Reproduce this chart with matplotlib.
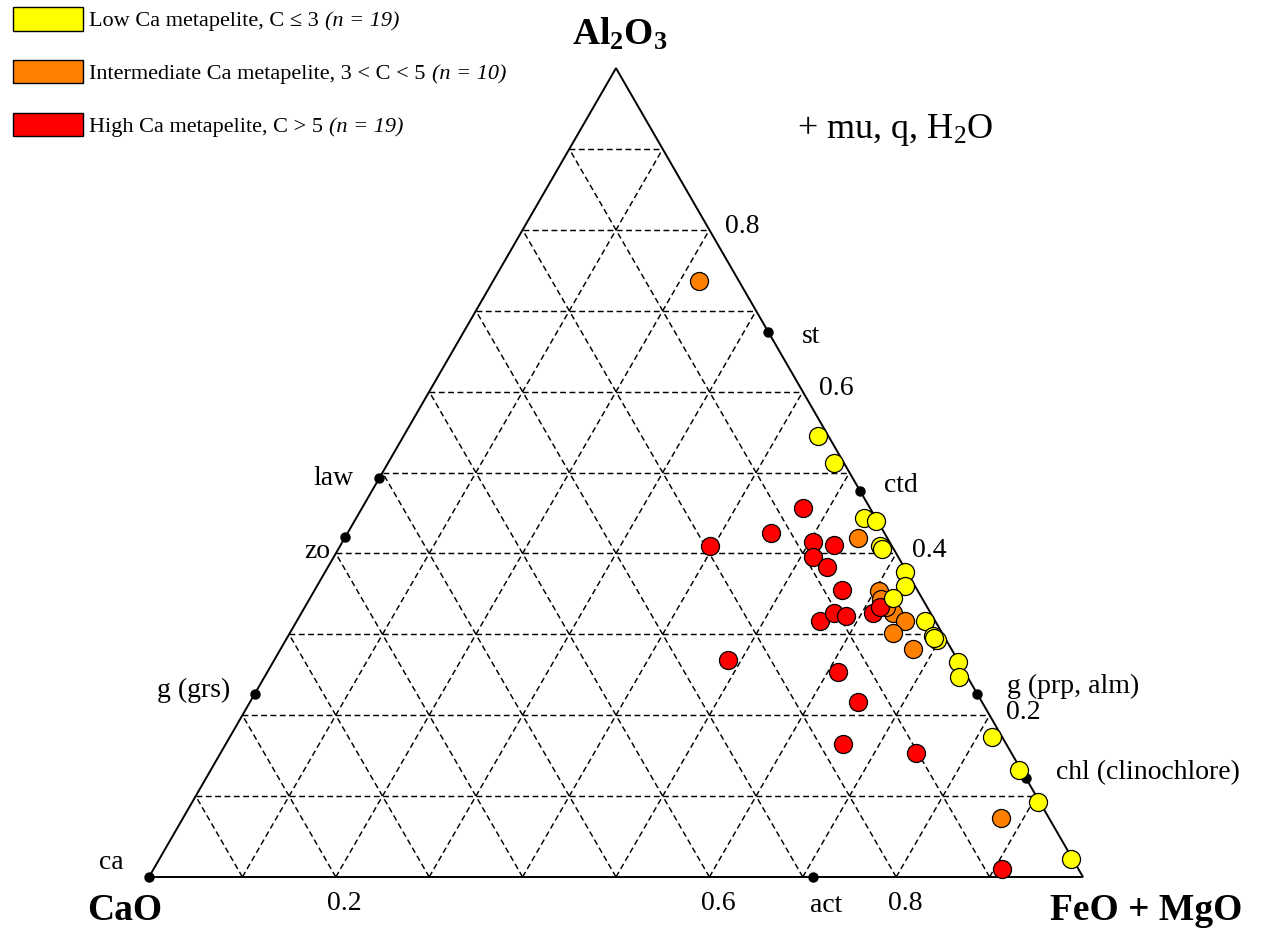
import numpy as np
import matplotlib
matplotlib.use("Agg")
import matplotlib.pyplot as plt
from matplotlib.patches import Patch

plt.rcParams['font.family'] = ['Liberation Serif', 'DejaVu Serif']
plt.rcParams['mathtext.fontset'] = 'custom'
plt.rcParams['mathtext.rm'] = 'Liberation Serif'
plt.rcParams['mathtext.it'] = 'Liberation Serif:italic'
plt.rcParams['mathtext.bf'] = 'Liberation Serif:bold'

# ---- sample compositions (molar fractions: Al2O3, FeO+MgO; CaO is the rest) ----
low_ca_al = [0.545, 0.512, 0.444, 0.440, 0.409, 0.377, 0.360, 0.345, 0.317, 0.298,
             0.293, 0.266, 0.247, 0.173, 0.132, 0.0925, 0.022, 0.296, 0.405]
low_ca_fm = [0.444, 0.477, 0.544, 0.558, 0.578, 0.621, 0.629, 0.624, 0.672, 0.690,
             0.697, 0.733, 0.744, 0.816, 0.865, 0.906, 0.976, 0.693, 0.582]

mid_ca_al = [0.737, 0.419, 0.354, 0.344, 0.326, 0.317, 0.302, 0.282, 0.073, 0.334]
mid_ca_fm = [0.220, 0.550, 0.605, 0.612, 0.634, 0.651, 0.646, 0.677, 0.876, 0.622]

high_ca_al = [0.409, 0.425, 0.456, 0.414, 0.411, 0.396, 0.383, 0.355, 0.317, 0.326,
              0.323, 0.326, 0.334, 0.268, 0.254, 0.216, 0.164, 0.153, 0.010]
high_ca_fm = [0.396, 0.453, 0.472, 0.504, 0.528, 0.513, 0.534, 0.564, 0.560, 0.570,
              0.585, 0.612, 0.616, 0.486, 0.611, 0.651, 0.661, 0.745, 0.908]

# ---- reference minerals ----
mineral_names = ['st', 'ctd', 'g (prp, alm)', 'chl (clinochlore)', 'act',
                 'law', 'zo', 'g (grs)', 'ca']
mineral_al = [0.674, 0.477, 0.226, 0.123, 0.0, 0.493, 0.420, 0.226, 0.0]
mineral_fm = [0.326, 0.523, 0.774, 0.877, 0.711, 0.0, 0.0, 0.0, 0.0]

grid_ticks = [0.1, 0.2, 0.3, 0.4, 0.5, 0.6, 0.7, 0.8, 0.9]
right_labels = [0.8, 0.6, 0.4, 0.2]
bottom_labels = [0.2, 0.6, 0.8]

legend_labels = ['Low Ca metapelite, C ≤ 3',
                 'Intermediate Ca metapelite, 3 < C < 5',
                 'High Ca metapelite, C > 5']
legend_counts = ['(n = 19)', '(n = 10)', '(n = 19)']
colors = ['#FFFF00', '#FF8000', '#FF0000']

S3 = np.sqrt(3) / 2


def tern(al, fm):
    al = np.asarray(al, dtype=float)
    fm = np.asarray(fm, dtype=float)
    return fm + al / 2.0, al * S3


fig = plt.figure(figsize=(12.61, 9.30), dpi=100)
ax = fig.add_axes([0, 0, 1, 1])
ax.set_xlim(-149 / 934, (1261 - 149) / 934)
ax.set_ylim((877 - 930) / 934, 877 / 934)
ax.axis('off')

# dashed grid
dash = dict(color='black', lw=1.05, ls=(0, (4, 2.4)), zorder=1)
for t in grid_ticks:
    x, y = tern([t, t], [0, 1 - t])          # constant Al2O3
    ax.plot(x, y, **dash)
    x, y = tern([0, 1 - t], [t, t])          # constant FeO+MgO
    ax.plot(x, y, **dash)
    x, y = tern([0, 1 - t], [1 - t, 0])      # constant CaO
    ax.plot(x, y, **dash)

# outline
x, y = tern([0, 0, 1, 0], [0, 1, 0, 0])
ax.plot(x, y, color='black', lw=1.4, zorder=2, solid_joinstyle='miter')

# mineral points and labels
mx, my = tern(mineral_al, mineral_fm)
ax.plot(mx, my, 'o', ms=6.5, color='black', zorder=3)
label_offsets = {
    'st': (34, 5, 'left'), 'ctd': (24, -6, 'left'), 'g (prp, alm)': (30, -8, 'left'),
    'chl (clinochlore)': (30, -5, 'left'), 'act': (13, 28, 'center'),
    'law': (-26, 0, 'right'), 'zo': (-15, 14, 'right'), 'g (grs)': (-24, -4, 'right'),
    'ca': (-25, -15, 'right'),
}
for name, x0, y0 in zip(mineral_names, mx, my):
    dx, dy, ha = label_offsets[name]
    ax.annotate(name, (x0, y0), xytext=(dx * 0.72, -dy * 0.72),
                textcoords='offset points', ha=ha, va='center', fontsize=20)

# tick labels
for t in right_labels:
    x0, y0 = tern(t, 1 - t)
    ax.annotate(f'{t:.1f}', (x0, y0), xytext=(16 * 0.72, 3 * 0.72),
                textcoords='offset points', ha='left', va='center', fontsize=20)
for t in bottom_labels:
    x0, y0 = tern(0, t)
    ax.annotate(f'{t:.1f}', (x0, y0), xytext=(9 * 0.72, -26 * 0.72),
                textcoords='offset points', ha='center', va='center', fontsize=20)

# sample points
for al, fm, c in [(mid_ca_al, mid_ca_fm, colors[1]),
                  (high_ca_al, high_ca_fm, colors[2]),
                  (low_ca_al, low_ca_fm, colors[0])]:
    x, y = tern(al, fm)
    ax.plot(x, y, 'o', ms=13, mfc=c, mec='black', mew=0.9, ls='none', zorder=4)

# apex titles
x0, y0 = tern(1, 0)
ax.annotate(r'$\mathbf{Al_2O_3}$', (x0, y0), xytext=(4 * 0.72, 34 * 0.72),
            textcoords='offset points', ha='center', va='center', fontsize=27)
x0, y0 = tern(0, 0)
ax.annotate('CaO', (x0, y0), xytext=(-24 * 0.72, -33 * 0.72), textcoords='offset points',
            ha='center', va='center', fontsize=27, fontweight='bold')
x0, y0 = tern(0, 1)
ax.annotate('FeO + MgO', (x0, y0), xytext=(63 * 0.72, -33 * 0.72), textcoords='offset points',
            ha='center', va='center', fontsize=27, fontweight='bold')

fig.text(895 / 1261, 1 - 130 / 930, r'+ mu, q, H$_2$O', ha='center', va='center', fontsize=26)

# legend: coloured boxes with regular text, sample counts appended in italics
handles = [Patch(facecolor=c, edgecolor='black', lw=1.0) for c in colors]
fs = 16
fpx = fs * 100 / 72
leg = fig.legend(handles, legend_labels, loc='upper left',
                 bbox_to_anchor=(13 / 1261, 1 - 7 / 930), frameon=False, fontsize=fs,
                 handlelength=70 / fpx, handleheight=28 / fpx, handletextpad=6 / fpx,
                 labelspacing=28.5 / fpx, borderpad=0, borderaxespad=0)
fig.canvas.draw()
renderer = fig.canvas.get_renderer()
inv = fig.transFigure.inverted()
for txt, count in zip(leg.get_texts(), legend_counts):
    bb = txt.get_window_extent(renderer)
    x_end, _ = inv.transform((bb.x1 + 6, 0))
    _, y_mid = inv.transform((0, (bb.y0 + bb.y1) / 2))
    fig.text(x_end, y_mid, count, fontsize=fs, style='italic', ha='left', va='center')

fig.savefig('out.png', dpi=100)
